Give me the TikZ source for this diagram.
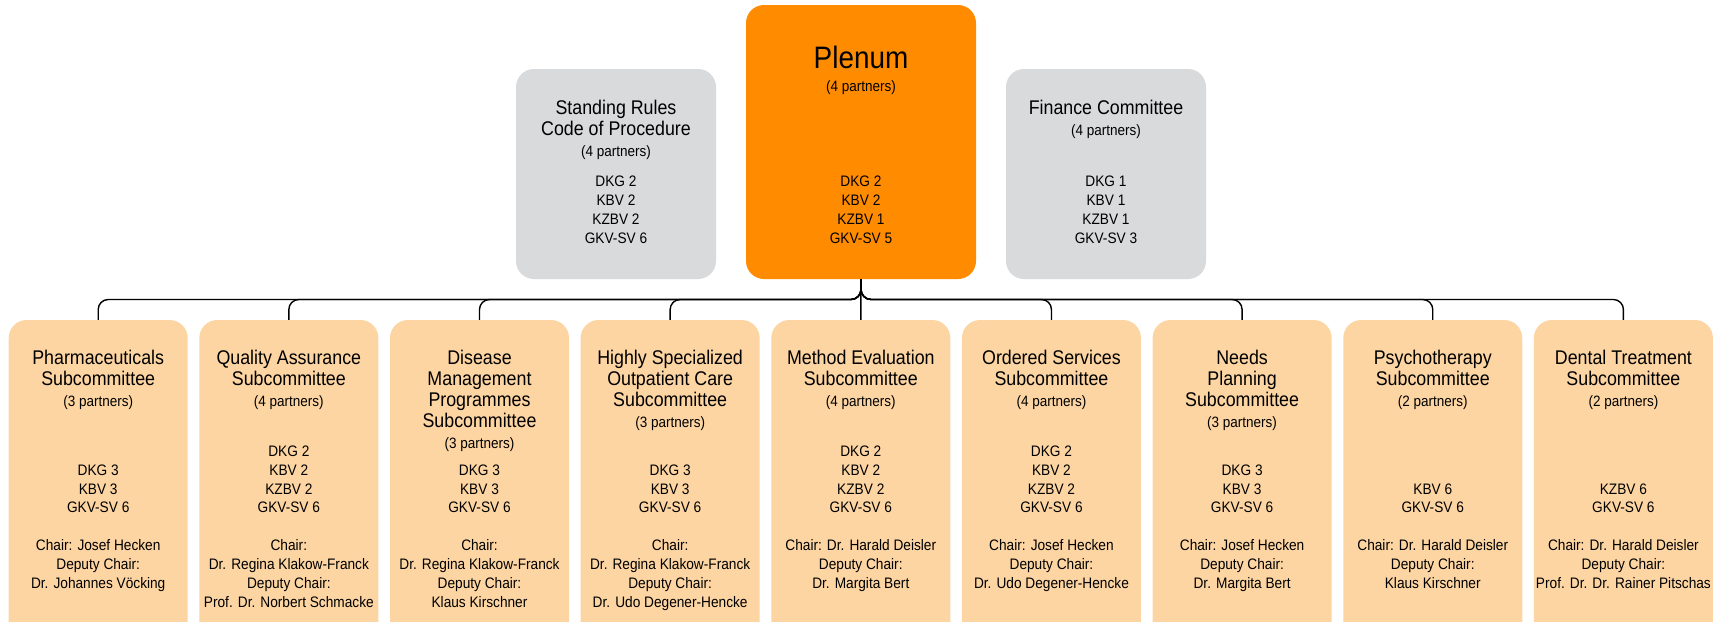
\documentclass[tikz,border=0pt]{standalone}
\usepackage{fontspec}
\setmainfont[FakeStretch=0.9]{Liberation Sans}
\usetikzlibrary{positioning}
\definecolor{plenumorange}{RGB}{255,140,0}
\definecolor{boxgray}{RGB}{217,218,220}
\definecolor{subpeach}{RGB}{253,213,162}
\newcommand{\partners}[1]{{\fontsize{15}{18}\selectfont(#1 partners)}}
\tikzset{
	topbox/.style={rounded corners=18pt, inner sep=0pt, minimum width=200pt, minimum height=210pt, fill=boxgray},
	plenumbox/.style={topbox, minimum width=230pt, minimum height=274pt, fill=plenumorange},
	subbox/.style={rounded corners=18pt, inner sep=0pt, minimum width=179pt, minimum height=330pt, fill=subpeach},
	titletext/.style={align=center, inner sep=0pt, font=\fontsize{19.8}{21}\selectfont},
	seattext/.style={align=center, inner sep=0pt, anchor=south, font=\fontsize{15.2}{18.8}\selectfont},
	chairtext/.style={align=center, inner sep=0pt, font=\fontsize{15.2}{18.8}\selectfont},
	link/.style={line width=1.4pt, rounded corners=10pt}
}

\begin{document}
\begin{tikzpicture}
		\useasboundingbox (0pt,0pt) rectangle (1713pt,-621pt);
		\clip (0pt,0pt) rectangle (1713pt,-621pt);
		\fill[white] (0pt,0pt) rectangle (1713pt,-621pt);

		%top row
		\node[topbox] (rules) at (616pt,-174pt) {};
		\node[plenumbox] (plenum) at (861pt,-142pt) {};
		\node[topbox] (finance) at (1106pt,-174pt) {};

		\node[titletext, below=31pt of rules.north] (rulestitle) {Standing Rules\\Code of Procedure\\\partners{4}};
		\node[seattext] (rulesseats) at ([yshift=35.6pt]rules.south) {DKG 2\\KBV 2\\KZBV 2\\GKV-SV 6};

		\node[inner sep=0pt, font=\fontsize{31}{34}\selectfont, below=40.8pt of plenum.north] (plenumname) {Plenum};
		\node[inner sep=0pt, below=11.5pt of plenumname] (plenumpartners) {\partners{4}};
		\node[seattext] (plenumseats) at ([yshift=35.6pt]plenum.south) {DKG 2\\KBV 2\\KZBV 1\\GKV-SV 5};

		\node[titletext, below=31pt of finance.north] (financetitle) {Finance Committee\\\partners{4}};
		\node[seattext] (financeseats) at ([yshift=35.6pt]finance.south) {DKG 1\\KBV 1\\KZBV 1\\GKV-SV 3};

		%subcommittees
		\foreach \i/\name/\np/\seats/\chair in {
			1/{Pharmaceuticals\\Subcommittee}/3/{DKG 3\\KBV 3\\GKV-SV 6}/{Chair: Josef Hecken\\Deputy Chair:\\Dr. Johannes Vöcking},
			2/{Quality Assurance\\Subcommittee}/4/{DKG 2\\KBV 2\\KZBV 2\\GKV-SV 6}/{Chair:\\Dr. Regina Klakow-Franck\\Deputy Chair:\\Prof. Dr. Norbert Schmacke},
			3/{Disease\\Management\\Programmes\\Subcommittee}/3/{DKG 3\\KBV 3\\GKV-SV 6}/{Chair:\\Dr. Regina Klakow-Franck\\Deputy Chair:\\Klaus Kirschner},
			4/{Highly Specialized\\Outpatient Care\\Subcommittee}/3/{DKG 3\\KBV 3\\GKV-SV 6}/{Chair:\\Dr. Regina Klakow-Franck\\Deputy Chair:\\Dr. Udo Degener-Hencke},
			5/{Method Evaluation\\Subcommittee}/4/{DKG 2\\KBV 2\\KZBV 2\\GKV-SV 6}/{Chair: Dr. Harald Deisler\\Deputy Chair:\\Dr. Margita Bert},
			6/{Ordered Services\\Subcommittee}/4/{DKG 2\\KBV 2\\KZBV 2\\GKV-SV 6}/{Chair: Josef Hecken\\Deputy Chair:\\Dr. Udo Degener-Hencke},
			7/{Needs\\Planning\\Subcommittee}/3/{DKG 3\\KBV 3\\GKV-SV 6}/{Chair: Josef Hecken\\Deputy Chair:\\Dr. Margita Bert},
			8/{Psychotherapy\\Subcommittee}/2/{KBV 6\\GKV-SV 6}/{Chair: Dr. Harald Deisler\\Deputy Chair:\\Klaus Kirschner},
			9/{Dental Treatment\\Subcommittee}/2/{KZBV 6\\GKV-SV 6}/{Chair: Dr. Harald Deisler\\Deputy Chair:\\Prof. Dr. Dr. Rainer Pitschas}}
		{
			\node[subbox] (sub\i) at ({98.2pt+190.65pt*(\i-1)},-485pt) {};
			\node[titletext, below=30.2pt of sub\i.north] (sub\i title) {\name\\\partners{\np}};
			\node[seattext] (sub\i seats) at ([yshift=-193.4pt]sub\i.north) {\seats};
			\node[chairtext, below=219.6pt of sub\i.north] (sub\i chair) {\chair};
			\coordinate (bus\i) at ({98.2pt+190.65pt*(\i-1)},-299.5pt);
		}

		%connectors
		\foreach \i in {1,2,3,4,6,7,8,9}
			\draw[link] (plenum.south) |- (bus\i) -- (sub\i.north);
		\draw[link] (plenum.south) -- (sub5.north);

	\end{tikzpicture}
\end{document}
